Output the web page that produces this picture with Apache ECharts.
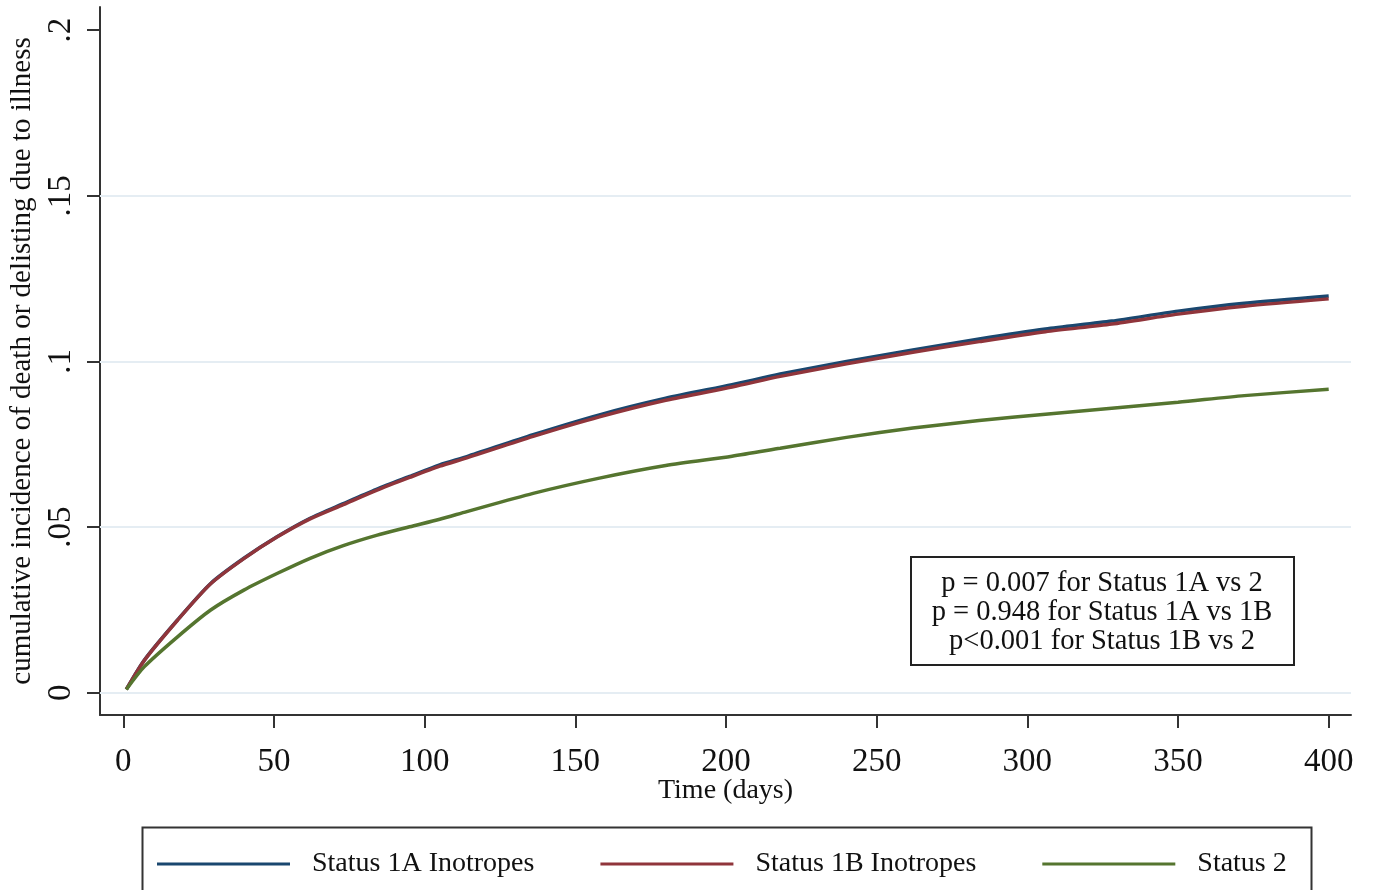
<!DOCTYPE html>
<html>
<head>
<meta charset="utf-8">
<script src="https://cdn.jsdelivr.net/npm/echarts@6/dist/echarts.min.js"></script>
<style>
html,body{margin:0;padding:0;background:#fff;}
#chart{width:1375px;height:890px;}
</style>
</head>
<body>
<div id="chart"></div>
<script>
// ---- data ----
const days = [1, 7, 18, 29, 40, 51, 62, 73, 84, 95, 105, 114, 136, 158, 180, 202, 218, 240, 262, 284, 306, 328, 350, 372, 400];
const status1A = [0.001, 0.0099, 0.022, 0.033, 0.0406, 0.0471, 0.0527, 0.0571, 0.0614, 0.0653, 0.0688, 0.0713, 0.0779, 0.0839, 0.0889, 0.093, 0.0962, 0.1000, 0.1035, 0.1068, 0.1098, 0.1122, 0.1152, 0.1176, 0.1198];
const status1B = [0.001, 0.0098, 0.0219, 0.0329, 0.0405, 0.047, 0.0525, 0.0568, 0.0611, 0.065, 0.0684, 0.0709, 0.0774, 0.0833, 0.0883, 0.0923, 0.0955, 0.0993, 0.1028, 0.106, 0.109, 0.1113, 0.1143, 0.1167, 0.1189];
const status2 = [0.001, 0.0079, 0.0169, 0.025, 0.031, 0.036, 0.0406, 0.0444, 0.0475, 0.0501, 0.0524, 0.0547, 0.0602, 0.0648, 0.0686, 0.0714, 0.0738, 0.0771, 0.0799, 0.0822, 0.0841, 0.0859, 0.0877, 0.0897, 0.0916];
const seriesNames = ['Status 1A Inotropes', 'Status 1B Inotropes', 'Status 2'];
const xTicks = [0, 50, 100, 150, 200, 250, 300, 350, 400];
const yTicks = [0, 0.05, 0.1, 0.15, 0.2];
const yTickLabels = ['0', '.05', '.1', '.15', '.2'];
const gridValues = [0, 0.05, 0.1, 0.15];
const pLines = ['p = 0.007 for Status 1A vs 2', 'p = 0.948 for Status 1A vs 1B', 'p<0.001 for Status 1B vs 2'];

const FONT = '"Liberation Serif", "DejaVu Serif", serif';
const colors = ['#1a476f', '#90353b', '#55752f'];
const zip = (xs, ys) => xs.map((x, i) => [x, ys[i]]);

const chart = echarts.init(document.getElementById('chart'), null, {renderer: 'canvas'});

const lineSeries = [status1A, status1B, status2].map((vals, i) => ({
  name: seriesNames[i],
  type: 'line',
  data: zip(days, vals),
  showSymbol: false,
  symbol: 'none',
  smooth: 0.25,
  z: 3,
  lineStyle: {color: colors[i], width: 3.5},
  itemStyle: {color: colors[i]},
  animation: false
}));

const option = {
  animation: false,
  backgroundColor: '#ffffff',
  grid: {left: 100, right: 24, top: 7, bottom: 175, containLabel: false, outerBoundsMode: 'none'},
  xAxis: {
    type: 'value',
    min: -7.73,
    max: 407.4,
    name: 'Time (days)',
    nameLocation: 'middle',
    nameGap: 62,
    nameMoveOverlap: false,
    nameTextStyle: {fontFamily: FONT, fontSize: 28, color: '#111'},
    axisLine: {show: true, onZero: false, lineStyle: {color: '#333', width: 2}},
    axisTick: {show: true, inside: false, length: 13, lineStyle: {color: '#333', width: 2}, customValues: xTicks},
    axisLabel: {show: true, margin: 31, fontFamily: FONT, fontSize: 33, color: '#111', customValues: xTicks, formatter: v => String(v)},
    splitLine: {show: false}
  },
  yAxis: {
    type: 'value',
    min: -0.0067,
    max: 0.207,
    name: 'cumulative incidence of death or delisting due to illness',
    nameLocation: 'middle',
    nameGap: 60,
    nameRotate: 90,
    nameTextStyle: {fontFamily: FONT, fontSize: 29, color: '#111'},
    axisLine: {show: true, onZero: false, lineStyle: {color: '#333', width: 2}},
    axisTick: {show: true, inside: false, length: 13, lineStyle: {color: '#333', width: 2}, customValues: yTicks},
    axisLabel: {
      show: true, rotate: 90, margin: 22, fontFamily: FONT, fontSize: 33, color: '#111',
      customValues: yTicks,
      formatter: v => {
        const idx = yTicks.findIndex(t => Math.abs(t - v) < 1e-9);
        return idx >= 0 ? yTickLabels[idx] : '';
      }
    },
    splitLine: {show: false}
  },
  legend: {
    show: true,
    data: seriesNames,
    left: 152,
    top: 845,
    orient: 'horizontal',
    icon: 'rect',
    itemWidth: 133,
    itemHeight: 3,
    itemGap: 66,
    selectedMode: false,
    textStyle: {fontFamily: FONT, fontSize: 28, color: '#111', padding: [0, 0, 0, 17]}
  },
  series: [
    {
      name: 'grid',
      type: 'line',
      data: [],
      z: 1,
      silent: true,
      markLine: {
        silent: true,
        z: 1,
        symbol: ['none', 'none'],
        label: {show: false},
        lineStyle: {color: '#e5edf3', width: 2, type: 'solid'},
        data: gridValues.map(v => ({yAxis: v}))
      }
    },
    ...lineSeries
  ],
  graphic: [
    {
      type: 'rect',
      left: 910, top: 556, z: 10,
      shape: {width: 383, height: 108},
      style: {fill: '#fff', stroke: '#222', lineWidth: 2}
    },
    ...pLines.map((t, i) => ({
      type: 'text',
      x: 1102, y: 584 + i * 29, z: 11,
      style: {text: t, fontFamily: FONT, fontSize: 28.5, fill: '#111', align: 'center', verticalAlign: 'middle'}
    })),
    {
      type: 'rect',
      left: 140, top: 825, z: 0,
      shape: {width: 1169, height: 100},
      style: {fill: 'none', stroke: '#333', lineWidth: 2}
    }
  ]
};
chart.setOption(option);
</script>
</body>
</html>
